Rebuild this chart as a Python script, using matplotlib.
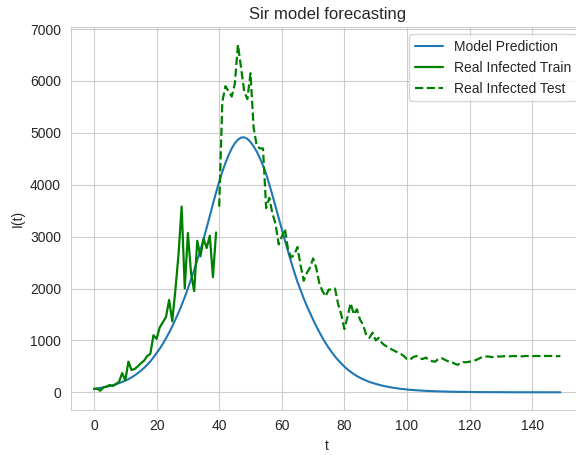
import matplotlib
matplotlib.use('Agg')
import matplotlib.pyplot as plt
import seaborn as sns
import numpy as np

# ---------------------------------------------------------------------------
# Data
# ---------------------------------------------------------------------------

# SIR model prediction, one value per day t = 0..149
model_pred = [
    65, 74, 83, 94, 107, 121, 137, 155, 176, 199,
    225, 254, 288, 326, 369, 418, 470, 530, 597, 672,
    755, 840, 935, 1040, 1150, 1270, 1400, 1535, 1680, 1835,
    2000, 2175, 2355, 2545, 2740, 2950, 3170, 3400, 3630, 3850,
    4060, 4250, 4420, 4570, 4700, 4800, 4870, 4910, 4915, 4885,
    4825, 4740, 4640, 4515, 4370, 4210, 4010, 3800, 3580, 3360,
    3140, 2925, 2715, 2510, 2315, 2130, 1970, 1810, 1665, 1530,
    1400, 1275, 1160, 1050, 950, 855, 770, 690, 620, 555,
    495, 442, 395, 352, 314, 280, 250, 224, 200, 180,
    162, 145, 130, 117, 105, 94, 84, 75, 67, 60,
    54, 48, 43, 39, 35, 31, 28, 25, 22, 20,
    18, 16, 14, 13, 11, 10, 9, 8, 7, 6,
    6, 5, 5, 4, 4, 3, 3, 3, 2, 2,
    2, 1, 1, 1, 1, 1, 1, 1, 1, 1,
    0, 0, 0, 0, 0, 0, 0, 0, 0, 0,
]

# observed infected, training part (t = 0..39)
infected_train = [
    65, 70, 30, 95, 110, 140, 120, 160, 200, 370,
    230, 590, 430, 450, 500, 560, 610, 700, 740, 1100,
    1030, 1250, 1350, 1450, 1780, 1370, 1970, 2650, 3580, 2000,
    3070, 2300, 1950, 2920, 2620, 2960, 2780, 3020, 2220, 3080,
]

# observed infected, test part (t = 40..149)
infected_test = [
    3580, 5600, 5900, 5800, 5700, 5950, 6700, 6250, 5800, 5650,
    6150, 5100, 4750, 4700, 4700, 3550, 3750, 3450, 3250, 2850,
    3000, 3150, 2750, 2600, 2650, 2800, 2450, 2150, 2300, 2400,
    2580, 2400, 2100, 1950, 1850, 1980, 1980, 2000, 1700, 1500,
    1220, 1450, 1720, 1500, 1600, 1400, 1300, 1100, 1050, 1150,
    1000, 1050, 950, 900, 870, 830, 800, 770, 740, 700,
    640, 630, 680, 700, 660, 640, 670, 620, 600, 590,
    640, 660, 630, 600, 590, 560, 530, 550, 580, 580,
    590, 600, 620, 650, 680, 690, 690, 680, 680, 690,
    690, 695, 690, 695, 700, 695, 690, 695, 700, 700,
    695, 700, 700, 695, 700, 700, 700, 700, 695, 700,
]

t_all = np.arange(len(model_pred))
t_train = np.arange(len(infected_train))
t_test = np.arange(len(infected_train), len(infected_train) + len(infected_test))

# ---------------------------------------------------------------------------
# Plot
# ---------------------------------------------------------------------------

sns.set_style('whitegrid')
plt.rcParams['font.family'] = ['Liberation Sans', 'DejaVu Sans']

fig = plt.figure(figsize=(5.76, 4.55), dpi=100)
ax = fig.add_axes([0.1227, 0.0996, 0.8906, 0.8404])

ax.plot(t_all, model_pred, color='#1f77b4', linewidth=1.5, label='Model Prediction')
ax.plot(t_train, infected_train, color='green', linewidth=1.6, label='Real Infected Train')
ax.plot(t_test, infected_test, color='green', linewidth=1.6, linestyle='--',
        label='Real Infected Test')

ax.set_xlim(-7.45, 156.45)
ax.set_ylim(-335, 7035)
ax.set_xticks(range(0, 141, 20))
ax.set_yticks(range(0, 7001, 1000))

ax.set_xlabel('t')
ax.set_ylabel('I(t)')
ax.set_title('Sir model forecasting')
ax.legend(loc='upper right')

fig.savefig('out.png', dpi=100)
